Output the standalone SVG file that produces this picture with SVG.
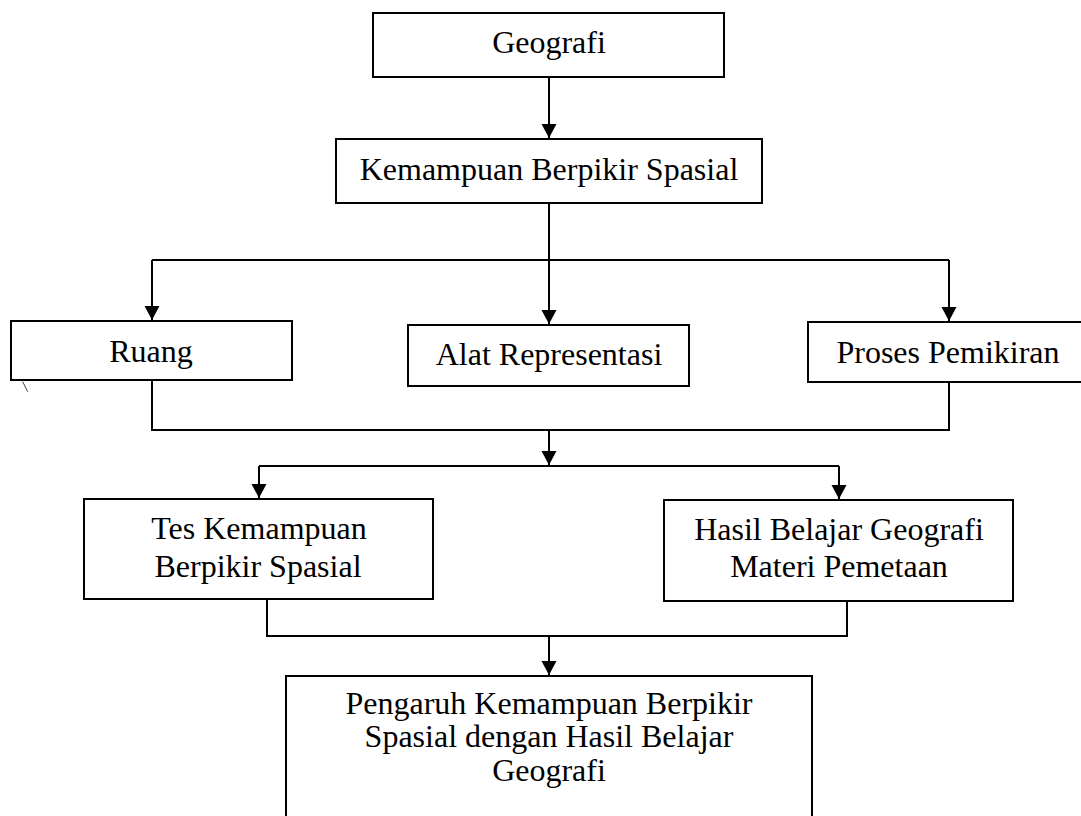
<svg xmlns="http://www.w3.org/2000/svg" width="1081" height="816" viewBox="0 0 1081 816">
<defs>
<style>
.box{fill:#fff;stroke:#000;stroke-width:2}
.t{font-family:"Liberation Serif","Times New Roman",serif;font-size:32px;fill:#000;text-anchor:middle}
.c{fill:none;stroke:#000;stroke-width:2}
.a{marker-end:url(#arr)}
</style>
<marker id="arr" markerUnits="userSpaceOnUse" markerWidth="16" markerHeight="16" refX="14" refY="7.5" orient="auto">
<path d="M0,0 L14,7.5 L0,15 z" fill="#000"/>
</marker>
</defs>
<rect width="1081" height="816" fill="#fff"/>
<g id="connectors">
<path class="c a" d="M549,77 V138"/>
<path class="c" d="M549,203 V260 M152,260 H949"/>
<path class="c a" d="M152,260 V320"/>
<path class="c a" d="M549,260 V324"/>
<path class="c a" d="M949,260 V321"/>
<path class="c" d="M152,380 V430 H949 V382"/>
<path class="c a" d="M549,430 V465"/>
<path class="c" d="M259,466 H839"/>
<path class="c a" d="M259,466 V498"/>
<path class="c a" d="M839,466 V499"/>
<path class="c" d="M267,599 V636 H847 V601"/>
<path class="c a" d="M549,636 V675"/>
<line x1="22.7" y1="381.7" x2="27.7" y2="391.7" stroke="#444" stroke-width="1"/>
</g>
<g id="geografi">
<rect class="box" x="373" y="13" width="351" height="64"/>
<text class="t" x="549" y="53">Geografi</text>
</g>
<g id="kemampuan">
<rect class="box" x="336" y="139" width="426" height="64"/>
<text class="t" x="549" y="180">Kemampuan Berpikir Spasial</text>
</g>
<g id="ruang">
<rect class="box" x="11" y="321" width="281" height="59"/>
<text class="t" x="151" y="362">Ruang</text>
</g>
<g id="alat">
<rect class="box" x="408" y="325" width="281" height="61"/>
<text class="t" x="549" y="365">Alat Representasi</text>
</g>
<g id="proses">
<rect class="box" x="808" y="322" width="281" height="60"/>
<text class="t" x="948" y="363">Proses Pemikiran</text>
</g>
<g id="tes">
<rect class="box" x="84" y="499" width="349" height="100"/>
<text class="t" x="259" y="539">Tes Kemampuan</text>
<text class="t" x="258" y="577">Berpikir Spasial</text>
</g>
<g id="hasil">
<rect class="box" x="664" y="500" width="349" height="101"/>
<text class="t" x="839" y="540">Hasil Belajar Geografi</text>
<text class="t" x="839" y="577">Materi Pemetaan</text>
</g>
<g id="pengaruh">
<rect class="box" x="286" y="676" width="526" height="160"/>
<text class="t" x="549" y="714">Pengaruh Kemampuan Berpikir</text>
<text class="t" x="549" y="747">Spasial dengan Hasil Belajar</text>
<text class="t" x="549" y="781">Geografi</text>
</g>
</svg>
